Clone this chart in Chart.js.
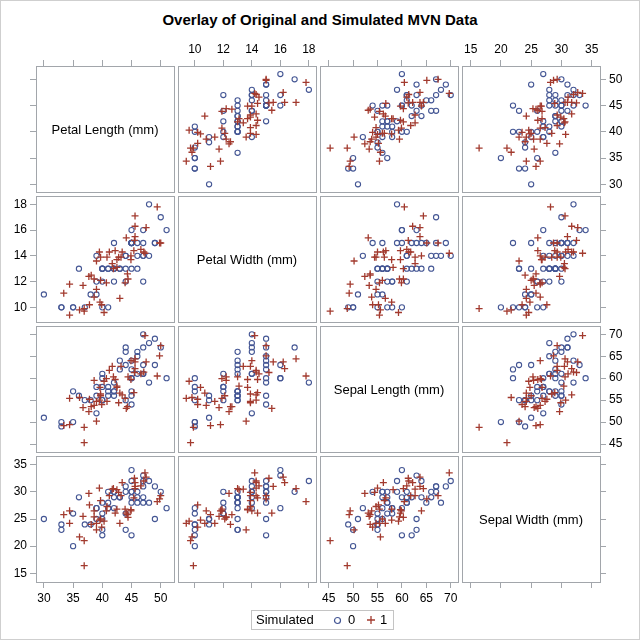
<!DOCTYPE html>
<html>
<head>
<meta charset="utf-8">
<script src="https://cdn.jsdelivr.net/npm/chart.js@4.4.1/dist/chart.umd.min.js"></script>
<style>
html,body{margin:0;padding:0;background:#fff;}
#wrap{position:relative;width:640px;height:640px;overflow:hidden;background:#fff;}
#frame{position:absolute;left:0;top:0;width:638px;height:638px;border:1px solid #cfcfcf;pointer-events:none;}
#title{position:absolute;left:0;width:640px;top:11px;line-height:18px;text-align:center;font:bold 15px "Liberation Sans",Arial,sans-serif;color:#000;}
canvas{position:absolute;}
#legend{position:absolute;left:251px;top:610px;width:141px;height:18px;border:1px solid #c4c4c4;font:13px "Liberation Sans",Arial,sans-serif;color:#000;}
#legend span{position:absolute;top:0;line-height:18px;}
#legend svg{position:absolute;}
</style>
</head>
<body>
<div id="wrap">
  <div id="title">Overlay of Original and Simulated MVN Data</div>
  <div id="legend">
    <span style="left:4px">Simulated</span>
    <svg style="left:81px;top:5px" width="9" height="9"><circle cx="4.5" cy="4.5" r="3" fill="none" stroke="#445694" stroke-width="1.2"/></svg>
    <span style="left:96px">0</span>
    <svg style="left:114px;top:4px" width="10" height="10"><path d="M5 1 V9 M1 5 H9" stroke="#A23A2E" stroke-width="1.3"/></svg>
    <span style="left:128px">1</span>
  </div>
  <div id="frame"></div>
</div>
<script>
// ---- variable names (diagonal labels) ----
const varNames = ['Petal Length (mm)', 'Petal Width (mm)', 'Sepal Length (mm)', 'Sepal Width (mm)'];

// ---- tick labels ----
const plTicks = [30, 35, 40, 45, 50];
const pwTicks = [10, 12, 14, 16, 18];
const slTicks = [45, 50, 55, 60, 65, 70];
const swTicks = [15, 20, 25, 30, 35];

// ---- original data (Simulated = 0) ----
const origPL = [47,45,49,40,46,45,47,33,46,39,35,42,40,47,36,44,45,41,45,39,48,40,49,47,43,44,48,50,45,35,38,37,39,51,45,45,47,44,41,40,44,46,40,33,42,42,42,43,30,41];
const origPW = [14,15,15,13,15,13,16,10,13,14,10,15,10,14,13,14,15,10,15,11,18,13,15,12,13,14,14,17,15,10,11,10,12,16,15,16,15,13,13,13,12,14,12,10,13,12,13,13,11,13];
const origSL = [70,64,69,55,65,57,63,49,66,52,50,59,60,61,56,67,56,58,62,56,59,61,63,61,64,66,68,67,60,57,55,55,58,60,54,60,67,63,56,55,55,61,58,50,56,57,57,62,51,57];
const origSW = [32,32,31,23,28,28,33,24,29,27,20,30,22,29,29,31,30,27,22,25,32,28,25,28,29,30,28,30,29,26,24,24,27,27,30,34,31,23,30,25,26,30,26,23,27,30,29,29,25,28];

// ---- simulated data (Simulated = 1) ----
const simPL = [50.0,49.8,49.4,47.5,47.3,47.1,46.6,45.6,45.6,45.6,45.5,45.4,44.9,44.9,44.4,44.3,44.1,43.9,43.4,43.2,43.0,42.8,42.5,42.5,42.2,41.9,41.7,41.2,40.8,40.7,40.3,39.9,39.7,39.7,39.6,39.5,39.0,39.0,38.6,38.6,38.1,37.8,37.7,36.9,36.9,36.7,36.1,34.4,34.4,33.4];
const simPW = [15.0,15.0,17.8,16.2,14.2,14.3,14.5,15.5,16.3,17.1,15.2,14.4,13.7,14.0,12.2,12.6,15.4,11.9,14.3,13.9,10.7,13.9,13.7,13.1,14.4,13.0,13.4,14.3,13.9,11.9,9.6,10.2,13.9,12.1,10.4,14.3,11.4,13.6,10.8,12.2,12.5,10.2,12.4,9.7,9.9,11.7,9.8,9.4,11.8,11.1];
const simSL = [67.4,65.1,60.5,63.7,69.7,61.4,61.0,63.7,62.2,64.4,61.3,56.7,59.7,64.0,60.3,53.5,53.1,55.4,56.2,62.7,56.6,54.4,57.9,58.2,59.7,60.3,62.7,61.8,54.7,59.9,59.3,54.0,56.4,56.0,57.9,55.0,54.7,50.2,53.8,59.5,53.5,55.2,52.4,45.3,48.8,53.3,55.6,55.4,49.4,49.2];
const simSW = [29.3,28.7,28.2,32.7,33.5,32.0,31.1,31.0,31.7,30.6,32.5,28.9,26.7,26.5,25.3,25.8,26.1,26.8,31.7,29.3,24.2,29.9,26.8,30.4,26.1,30.6,30.5,29.3,27.3,26.5,24.6,23.5,28.4,25.0,24.8,30.7,24.2,23.0,26.5,25.4,24.0,27.6,29.7,21.0,16.4,25.5,21.7,24.2,26.5,25.8];

// ---- assembly ----
const origCols = [origPL, origPW, origSL, origSW];
const simCols = [simPL, simPW, simSL, simSW];
const tickCols = [plTicks, pwTicks, slTicks, swTicks];
// axis extents (horizontal use / vertical use)
const xRange = [[28.65, 52.27], [8.82, 18.5], [43.22, 71.49], [13.57, 36.38]];
const yRange = [[28.53, 52.53], [8.86, 18.65], [43.18, 71.89], [13.4, 36.6]];

const FONT = '"Liberation Sans", Arial, sans-serif';
const GRAY = '#a2a6ab';
const M = 36, PWID = 138, PHGT = 126;
const wrap = document.getElementById('wrap');

const diagPlugin = {
  id: 'diag',
  afterDraw(chart, args, opts) {
    if (!opts || !opts.text) return;
    const a = chart.chartArea, ctx = chart.ctx;
    ctx.save();
    ctx.font = '13px ' + FONT;
    ctx.fillStyle = '#000';
    ctx.textAlign = 'center';
    ctx.textBaseline = 'middle';
    ctx.fillText(opts.text, (a.left + a.right) / 2, (a.top + a.bottom) / 2 + 1);
    ctx.restore();
  }
};

function makeAxis(axis, pos, ticks, range, marks, labels) {
  const horiz = axis === 'x';
  return {
    type: 'linear', axis: axis, position: pos, min: range[0], max: range[1],
    afterBuildTicks: s => { s.ticks = ticks.map(v => ({ value: v })); },
    afterFit: s => { if (horiz) s.height = M; else s.width = M; },
    grid: { display: marks, drawOnChartArea: false, drawTicks: true, tickLength: 6, color: GRAY, lineWidth: 1 },
    border: { display: true, color: GRAY, width: 1 },
    ticks: { display: labels, color: '#000', font: { family: FONT, size: 12 }, padding: 3, maxRotation: 0, autoSkip: false }
  };
}

for (let r = 0; r < 4; r++) {
  for (let c = 0; c < 4; c++) {
    const cv = document.createElement('canvas');
    const w = PWID + 2 * M, h = PHGT + 2 * M;
    cv.width = w; cv.height = h;
    cv.style.width = w + 'px'; cv.style.height = h + 'px';
    cv.style.left = (36 + c * 142 - M) + 'px';
    cv.style.top = (66 + r * 130 - M) + 'px';
    wrap.insertBefore(cv, document.getElementById('legend'));

    const diag = r === c;
    const datasets = diag ? [] : [
      {
        label: '1',
        data: simCols[c].map((v, i) => ({ x: v, y: simCols[r][i] })),
        pointStyle: 'cross', pointRadius: 3.5, borderColor: '#A23A2E', backgroundColor: '#A23A2E',
        pointBorderWidth: 1.3, borderWidth: 1.3, xAxisID: 'xB', yAxisID: 'yL', showLine: false
      },
      {
        label: '0',
        data: origCols[c].map((v, i) => ({ x: v, y: origCols[r][i] })),
        pointStyle: 'circle', pointRadius: 2.6, borderColor: '#445694', backgroundColor: 'rgba(0,0,0,0)',
        pointBorderWidth: 1.1, borderWidth: 1.1, xAxisID: 'xB', yAxisID: 'yL', showLine: false
      }
    ];

    new Chart(cv, {
      type: 'scatter',
      data: { datasets },
      plugins: [diagPlugin],
      options: {
        responsive: false, animation: false, devicePixelRatio: 1, events: [],
        layout: { padding: 0 },
        plugins: { legend: { display: false }, tooltip: { enabled: false }, diag: { text: diag ? varNames[r] : '' } },
        scales: {
          xB: makeAxis('x', 'bottom', tickCols[c], xRange[c], r === 3, r === 3 && c % 2 === 0),
          xT: makeAxis('x', 'top', tickCols[c], xRange[c], r === 0, r === 0 && c % 2 === 1),
          yL: makeAxis('y', 'left', tickCols[r], yRange[r], c === 0, c === 0 && r % 2 === 1),
          yR: makeAxis('y', 'right', tickCols[r], yRange[r], c === 3, c === 3 && r % 2 === 0)
        }
      }
    });
  }
}
</script>
</body>
</html>
